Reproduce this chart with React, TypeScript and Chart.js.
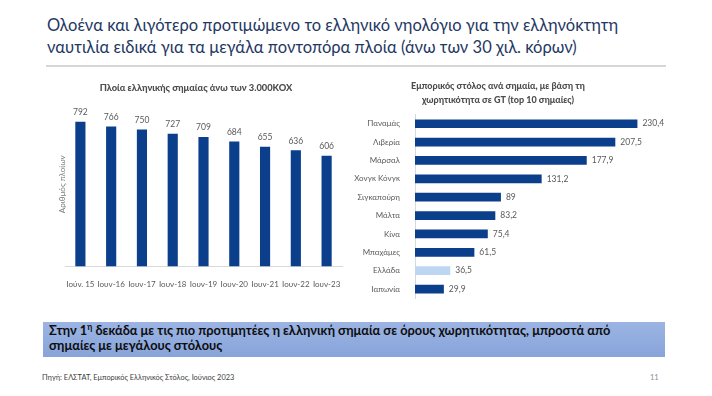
import React, { useEffect, useRef } from "react";
import { Chart, registerables } from "chart.js";
Chart.register(...registerables);

const FONT = "Lato, 'Noto Sans', sans-serif";

const years = ["Ιούν. 15", "Ιουν-16", "Ιουν-17", "Ιουν-18", "Ιουν-19", "Ιουν-20", "Ιουν-21", "Ιουν-22", "Ιουν-23"];
const ships = [792, 766, 750, 727, 709, 684, 655, 636, 606];

const flags = ["Παναμάς", "Λιβερία", "Μάρσαλ", "Χονγκ Κόνγκ", "Σιγκαπούρη", "Μάλτα", "Κίνα", "Μπαχάμες", "Ελλάδα", "Ιαπωνία"];
const tonnage = [230.4, 207.5, 177.9, 131.2, 89, 83.2, 75.4, 61.5, 36.5, 29.9];
const highlightFlag = "Ελλάδα";

const DARK = "#0b3f8c";
const LIGHT = "#bdd7f3";

function makeLabelPlugin(horizontal: boolean, offset: number, fmt: (v: number) => string) {
  return {
    id: "valueLabels",
    afterDatasetsDraw(chart: any) {
      const ctx = chart.ctx;
      const meta = chart.getDatasetMeta(0);
      const data = chart.data.datasets[0].data as number[];
      ctx.save();
      ctx.font = `8.5px ${FONT}`;
      ctx.fillStyle = "#595959";
      meta.data.forEach((el: any, i: number) => {
        const t = fmt(data[i]);
        if (horizontal) {
          ctx.textAlign = "left";
          ctx.textBaseline = "middle";
          ctx.fillText(t, el.x + offset, el.y);
        } else {
          ctx.textAlign = "center";
          ctx.textBaseline = "bottom";
          ctx.fillText(t, el.x, el.y - offset);
        }
      });
      ctx.restore();
    },
  };
}

function LeftChart() {
  const ref = useRef<HTMLCanvasElement>(null);
  useEffect(() => {
    const chart = new Chart(ref.current!, {
      type: "bar",
      data: {
        labels: years,
        datasets: [{ data: ships, backgroundColor: DARK, categoryPercentage: 1, barPercentage: 0.33 }],
      },
      options: {
        animation: false,
        responsive: false,
        layout: { padding: { left: 50, right: 8, top: 0, bottom: 6 } },
        plugins: {
          legend: { display: false },
          tooltip: { enabled: false },
          title: {
            display: true,
            text: "Πλοία ελληνικής σημαίας άνω των 3.000ΚΟΧ",
            color: "#4d4d4d",
            font: { family: FONT, size: 9.3, weight: "900" },
            padding: { top: 12, bottom: 9 },
          },
        },
        scales: {
          x: {
            grid: { display: false },
            border: { color: "#d9d9d9" },
            ticks: { color: "#595959", font: { family: FONT, size: 8 }, padding: 5, maxRotation: 0, autoSkip: false },
          },
          y: {
            min: 0,
            max: 900,
            grid: { display: false },
            border: { display: false },
            ticks: { display: false },
            title: {
              display: true,
              text: "Αριθμός πλοίων",
              color: "#7f7f7f",
              font: { family: FONT, size: 8 },
              padding: { top: 8, bottom: 0 },
            },
            afterFit: (s: any) => {
              s.width = 15;
            },
          },
        },
      },
      plugins: [makeLabelPlugin(false, 5, (v) => String(v))],
    } as any);
    return () => chart.destroy();
  }, []);
  return <canvas ref={ref} width={350} height={230} style={{ position: "absolute", left: 0, top: 70 }} />;
}

function RightChart() {
  const ref = useRef<HTMLCanvasElement>(null);
  useEffect(() => {
    const chart = new Chart(ref.current!, {
      type: "bar",
      data: {
        labels: flags,
        datasets: [
          {
            data: tonnage,
            backgroundColor: flags.map((f) => (f === highlightFlag ? LIGHT : DARK)),
            categoryPercentage: 1,
            barPercentage: 0.475,
          },
        ],
      },
      options: {
        animation: false,
        responsive: false,
        indexAxis: "y",
        layout: { padding: { left: 0, right: 46, top: 0, bottom: 6 } },
        plugins: {
          legend: { display: false },
          tooltip: { enabled: false },
          title: {
            display: true,
            text: ["Εμπορικός στόλος ανά σημαία, με βάση τη", "χωρητικότητα σε GT (top 10 σημαίες)"],
            color: "#4d4d4d",
            font: { family: FONT, size: 9, weight: "900", lineHeight: 1.56 },
            padding: { top: 9, bottom: 7.5 },
          },
        },
        scales: {
          x: { display: false, min: 0, max: 260 },
          y: {
            grid: { display: false },
            border: { color: "#d9d9d9" },
            ticks: { color: "#595959", font: { family: FONT, size: 8 }, padding: 7 },
            afterFit: (s: any) => {
              s.width = 85;
            },
          },
        },
      },
      plugins: [makeLabelPlugin(true, 5, (v) => String(v).replace(".", ","))],
    } as any);
    return () => chart.destroy();
  }, []);
  return <canvas ref={ref} width={382} height={240} style={{ position: "absolute", left: 330, top: 70 }} />;
}

export default function App() {
  return (
    <div
      style={{
        position: "absolute",
        left: 0,
        top: 0,
        width: 712,
        height: 396,
        background: "#ffffff",
        overflow: "hidden",
        fontFamily: FONT,
      }}
    >
      <div
        style={{
          position: "absolute",
          left: 47,
          top: 14,
          fontSize: 16.5,
          lineHeight: "22px",
          color: "#1f3864",
          whiteSpace: "nowrap",
        }}
      >
        Ολοένα και λιγότερο προτιμώμενο το ελληνικό νηολόγιο για την ελληνόκτητη
        <br />
        ναυτιλία ειδικά για τα μεγάλα ποντοπόρα πλοία (άνω των 30 χιλ. κόρων)
      </div>
      <div style={{ position: "absolute", left: 46, top: 65, width: 620, height: 2, background: "#d6d6d6" }} />
      <LeftChart />
      <RightChart />
      <div
        style={{
          position: "absolute",
          left: 43,
          top: 322,
          width: 622,
          height: 35,
          background: "linear-gradient(to bottom, #9cb4e3, #87a4da)",
          boxSizing: "border-box",
          padding: "1px 0 0 6px",
          fontSize: 12.8,
          lineHeight: "15px",
          fontWeight: "bold",
          color: "#0d0d0d",
          whiteSpace: "nowrap",
        }}
      >
        Στην 1<sup style={{ fontSize: 8.5, lineHeight: 0 }}>η</sup> δεκάδα με τις πιο προτιμητέες η ελληνική σημαία σε όρους χωρητικότητας, μπροστά από
        <br />
        σημαίες με μεγάλους στόλους
      </div>
      <div style={{ position: "absolute", left: 42, top: 373, fontSize: 7.4, color: "#404040", whiteSpace: "nowrap" }}>
        Πηγή: ΕΛΣΤΑΤ, Εμπορικός Ελληνικός Στόλος, Ιούνιος 2023
      </div>
      <div style={{ position: "absolute", left: 650, top: 373, fontSize: 7.5, color: "#8c8c8c" }}>11</div>
    </div>
  );
}
